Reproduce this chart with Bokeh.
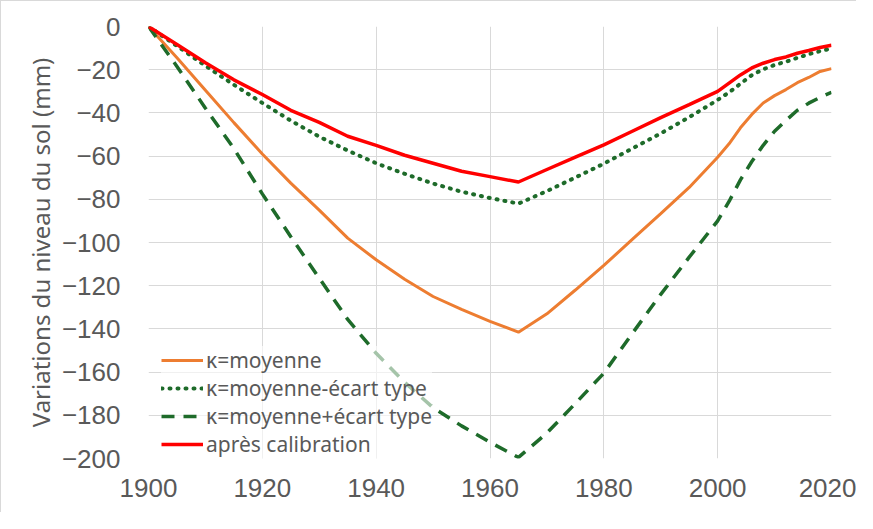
from bokeh.plotting import figure
from bokeh.models import ColumnDataSource, Legend, LegendItem, FixedTicker, Range1d
from bokeh.embed import file_html
from bokeh.resources import INLINE

years = [1900, 1905, 1910, 1915, 1920, 1925, 1930, 1935, 1940, 1945, 1950, 1955, 1960, 1965,
         1970, 1975, 1980, 1985, 1990, 1995, 2000, 2002, 2004, 2006, 2008, 2010, 2012, 2014,
         2016, 2018, 2020]

k_moyenne = [0, -14.5, -29.5, -44.5, -59, -72.5, -85, -98, -108, -117, -125, -131, -136.5, -141.5,
             -133, -122, -110.6, -98.6, -86.6, -74.5, -60.5, -54.3, -46.9, -40.7, -35.4, -32, -29.2,
             -26, -23.6, -20.8, -19.5]

k_moins = [0, -9, -18.2, -27, -35.4, -43.6, -51, -57.4, -63.3, -68.2, -72.7, -76.5, -79.4, -82,
           -76.2, -69.9, -63.5, -56.5, -49.5, -42, -34, -30.5, -26.5, -22.5, -19.8, -17.8, -16.3,
           -14.5, -12.8, -11.4, -10.2]

k_plus = [0, -18.5, -37.8, -56.5, -77.5, -97.3, -116.5, -135.6, -151.3, -164.7, -176.5, -184.9,
          -192.5, -199.5, -188.2, -174.5, -160.5, -142.1, -124, -106.8, -90, -81, -71, -62.5, -55,
          -48.5, -43.5, -38.8, -35.5, -32.8, -30.5]

apres_calib = [0, -8.3, -16.8, -24.7, -31.5, -38.8, -44.4, -50.8, -55, -59.6, -63.3, -67, -69.5, -72,
               -66.2, -60.5, -54.8, -48.5, -42.2, -36.2, -30, -26.2, -22.4, -19.2, -17, -15.3, -14.1,
               -12.4, -11.1, -9.7, -8.7]

series_labels = ["κ=moyenne", "κ=moyenne-écart type", "κ=moyenne+écart type", "après calibration"]
x_ticks = [1900, 1920, 1940, 1960, 1980, 2000, 2020]
y_ticks = [0, -20, -40, -60, -80, -100, -120, -140, -160, -180, -200]
y_title = "Variations du niveau du sol (mm)"

src = ColumnDataSource(dict(x=years, a=k_moyenne, b=k_moins, c=k_plus, d=apres_calib))

p = figure(width=856, height=512, output_backend="svg", toolbar_location=None,
           x_range=Range1d(1900, 2020), y_range=Range1d(-200, 0),
           min_border_left=147, min_border_right=26, min_border_top=25, min_border_bottom=55)
p.styles = {"border-left": "1px solid #d9d9d9", "border-top": "1px solid #d9d9d9"}
p.outline_line_color = None
p.background_fill_color = "white"
p.border_fill_color = "white"

GREEN = "#1E6B2A"
r_a = p.line("x", "a", source=src, line_color="#ED7D31", line_width=3)
r_b = p.line("x", "b", source=src, line_color=GREEN, line_width=4, line_dash="1 7", line_cap="round")
r_c = p.line("x", "c", source=src, line_color=GREEN, line_width=3.5, line_dash="13 9")
r_d = p.line("x", "d", source=src, line_color="#FF0000", line_width=3.5)

for ax in (p.xaxis[0], p.yaxis[0]):
    ax.axis_line_color = None
    ax.major_tick_line_color = None
    ax.minor_tick_line_color = None
    ax.major_tick_out = 0
    ax.major_tick_in = 0
    ax.major_label_text_color = "#595959"
    ax.major_label_text_font = "Liberation Sans"
    ax.major_label_text_font_size = "26px"

p.xaxis[0].ticker = FixedTicker(ticks=x_ticks)
p.yaxis[0].ticker = FixedTicker(ticks=y_ticks)
p.xaxis[0].major_label_standoff = 20
p.yaxis[0].major_label_standoff = 28
p.yaxis[0].axis_label = y_title
p.yaxis[0].axis_label_text_font = "Noto Sans"
p.yaxis[0].axis_label_text_font_style = "normal"
p.yaxis[0].axis_label_text_font_size = "24px"
p.yaxis[0].axis_label_text_color = "#595959"
p.yaxis[0].axis_label_standoff = 2

p.xgrid.ticker = FixedTicker(ticks=x_ticks)
p.ygrid.ticker = FixedTicker(ticks=y_ticks)
p.grid.grid_line_color = "#d9d9d9"
p.grid.grid_line_width = 1

legend = Legend(items=[LegendItem(label=series_labels[0], renderers=[r_a]),
                       LegendItem(label=series_labels[1], renderers=[r_b]),
                       LegendItem(label=series_labels[2], renderers=[r_c]),
                       LegendItem(label=series_labels[3], renderers=[r_d])],
                location=(13, 0), margin=0, padding=8, spacing=0,
                glyph_width=42, glyph_height=20, label_height=20, label_standoff=3,
                label_text_font="Noto Sans", label_text_font_size="21px",
                label_text_color="#595959",
                background_fill_color="white", background_fill_alpha=0.6,
                border_line_color=None)
p.add_layout(legend, "center")

open("out.html", "w").write(file_html(p, INLINE))
